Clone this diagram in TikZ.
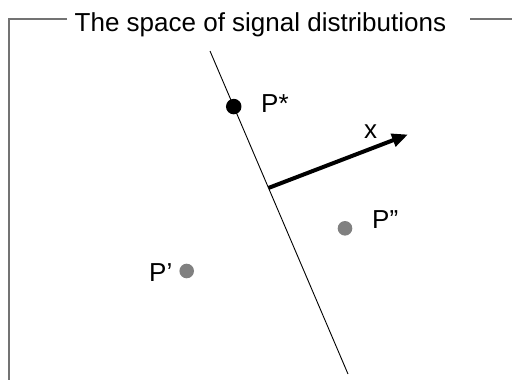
\documentclass[tikz,border=0pt]{standalone}
\usepackage{fontspec}
\setmainfont{Liberation Sans}
\usetikzlibrary{arrows.meta, calc}
\definecolor{framegray}{RGB}{115,115,115}
\definecolor{dotgray}{RGB}{128,128,128}

\begin{document}
\begin{tikzpicture}[x=1pt, y=-1pt, font=\fontsize{26}{31}\selectfont]
  \fill[white] (0,0) rectangle (512,380);
  \useasboundingbox (0,0) rectangle (512,380);
  % frame and its title
  \node[inner sep=0pt, anchor=base west] (title) at (74.5,31.5) {The space of signal distributions};
  \coordinate (corner) at (9,19);
  \draw[framegray, line width=1.3pt] (67,19) -- (corner) -- (9,381);
  \draw[framegray, line width=1.3pt] (470,19) -- (513,19);
  % separating line
  \coordinate (top) at (210,51);
  \coordinate (bot) at (348,374);
  \draw[line width=0.9pt] (top) -- (bot);
  \coordinate (base) at ($(top)!0.424!(bot)$);
  \coordinate (tip) at (408,134.5);
  \draw[line width=4pt, -{Triangle[length=16pt, width=13pt]}] (base) -- (tip);
  \node[inner sep=0pt, anchor=base west] (xlbl) at (364,138) {x};
  % points
  \node[circle, fill=black, inner sep=0pt, minimum size=15.5pt] (pstar) at ($(top)!0.172!(bot)$) {};
  \node[inner sep=0pt, anchor=base west] (pstarlbl) at (261,112) {P*};
  \node[circle, fill=dotgray, inner sep=0pt, minimum size=14.6pt] (pdd) at (345,228.3) {};
  \node[inner sep=0pt, anchor=base west] (pddlbl) at (372,228) {P”};
  \node[circle, fill=dotgray, inner sep=0pt, minimum size=14.6pt] (pd) at (186.7,271) {};
  \node[inner sep=0pt, anchor=base west] (pdlbl) at (149,281.5) {P’};
\end{tikzpicture}
\end{document}
